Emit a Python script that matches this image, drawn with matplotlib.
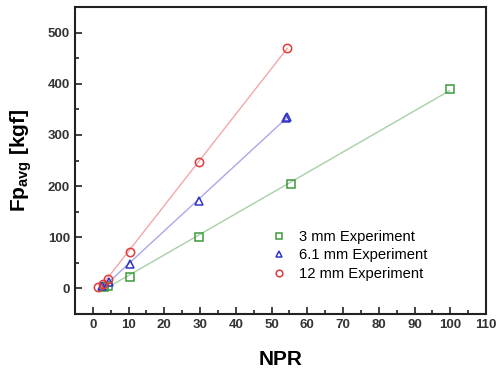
import numpy as np
import matplotlib
matplotlib.use("Agg")
import matplotlib.pyplot as plt
from matplotlib.ticker import MultipleLocator

plt.rcParams['font.family'] = ['Liberation Sans', 'DejaVu Sans']
plt.rcParams['mathtext.fontset'] = 'custom'
plt.rcParams['mathtext.rm'] = 'Liberation Sans'
plt.rcParams['mathtext.bf'] = 'Liberation Sans:bold'

# data
npr_3mm = [3.0, 4.2, 10.3, 29.7, 55.5, 99.8]
fp_3mm = [2, 5, 23, 100, 205, 390]

npr_61mm = [2.7, 4.5, 10.3, 29.8, 54.0, 54.4]
fp_61mm = [5, 12, 48, 171, 333, 336]

npr_12mm = [1.6, 2.8, 4.2, 10.3, 29.7, 54.4]
fp_12mm = [3, 9, 18, 72, 247, 471]

series = [
    (npr_3mm, fp_3mm, 's', '#3c9a3c', '#a8cfa8', '3 mm Experiment'),
    (npr_61mm, fp_61mm, '^', '#3434c4', '#a8a8e8', '6.1 mm Experiment'),
    (npr_12mm, fp_12mm, 'o', '#e23a3a', '#f2a8a8', '12 mm Experiment'),
]

fig = plt.figure(figsize=(4.96, 3.76), dpi=100)
ax = fig.add_axes([0.151, 0.165, 0.829, 0.816])

for x, y, m, c, lc, lab in series:
    x = np.array(x)
    k, b = np.polyfit(x, y, 1)
    xs = np.array([x.min(), x.max()])
    ax.plot(xs, k * xs + b, color=lc, lw=1.0, zorder=1)
    ax.plot(x, y, m, mfc='none', mec=c, mew=1.1, ms=6, label=lab, zorder=2)

ax.set_xlim(-5, 110)
ax.set_ylim(-50, 550)
ax.xaxis.set_major_locator(MultipleLocator(10))
ax.xaxis.set_minor_locator(MultipleLocator(5))
ax.yaxis.set_major_locator(MultipleLocator(100))
ax.yaxis.set_minor_locator(MultipleLocator(50))
ax.tick_params(which='both', direction='in', width=1.2, colors='#222222')
ax.tick_params(which='major', length=5, labelsize=9.5)
ax.tick_params(which='minor', length=3)
for t in ax.get_xticklabels() + ax.get_yticklabels():
    t.set_fontweight('bold')
    t.set_color('#333333')
for s in ax.spines.values():
    s.set_linewidth(1.5)
    s.set_color('#222222')

ax.set_xlabel('NPR', fontsize=15, fontweight='bold', labelpad=14)
ax.set_ylabel(r'Fp$_{\mathbf{avg}}$ [kgf]', fontsize=15, fontweight='bold', labelpad=10)

leg = ax.legend(loc='lower right', bbox_to_anchor=(0.89, 0.065), frameon=False, fontsize=10.6,
                handletextpad=0.8, labelspacing=0.3, handlelength=1.2, markerscale=0.8)

fig.savefig('out.png', dpi=100)
